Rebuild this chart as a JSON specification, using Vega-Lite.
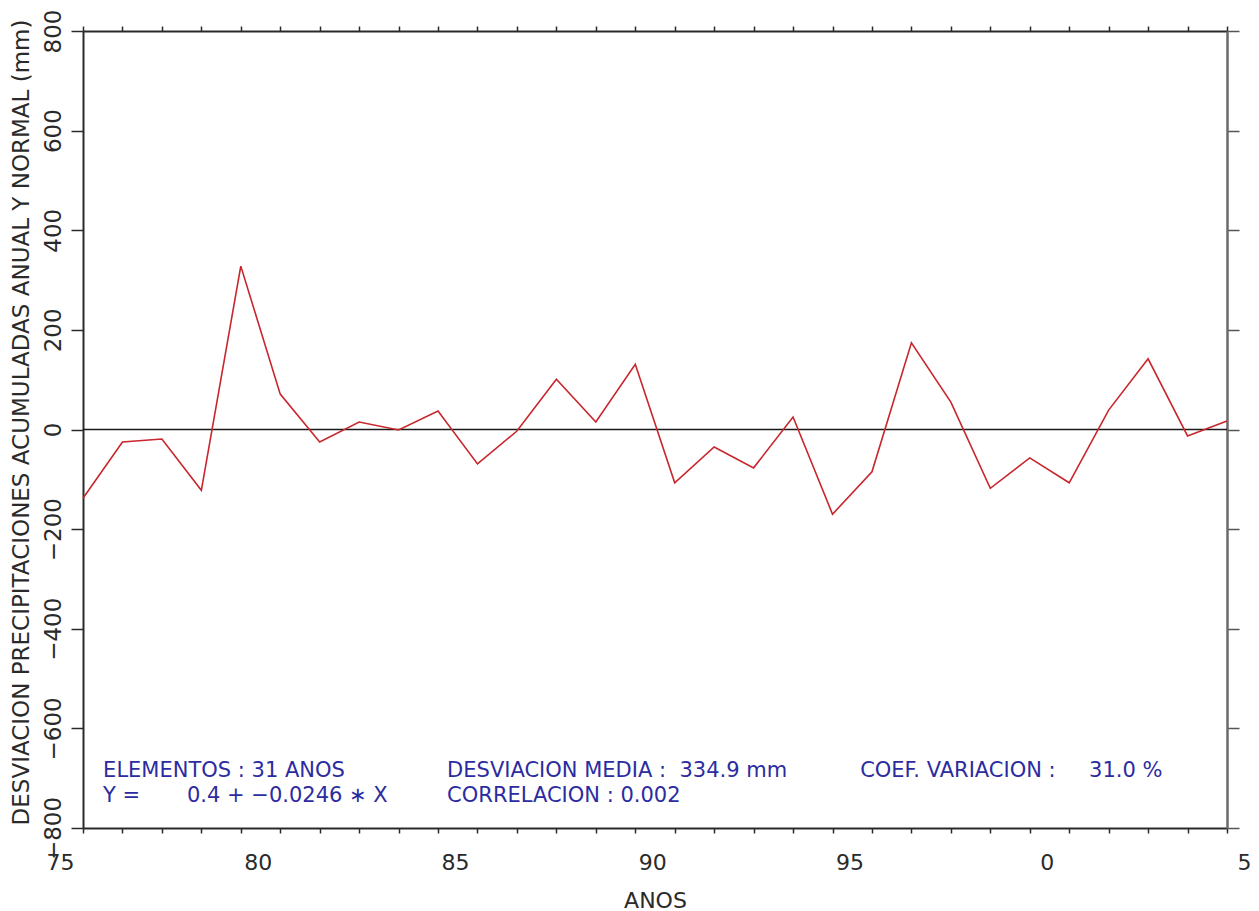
{
  "$schema": "https://vega.github.io/schema/vega-lite/v6.json",
  "width": 1144,
  "height": 797,
  "autosize": {"type": "none"},
  "padding": {"left": 83, "top": 31, "right": 32, "bottom": 83},
  "background": "white",
  "config": {"view": {"stroke": null}, "font": "DejaVu Sans"},
  "datasets": {
    "desviacion": [
      {"anio": 1976, "desviacion": -138},
      {"anio": 1977, "desviacion": -25},
      {"anio": 1978, "desviacion": -19},
      {"anio": 1979, "desviacion": -122},
      {"anio": 1980, "desviacion": 328},
      {"anio": 1981, "desviacion": 71},
      {"anio": 1982, "desviacion": -25},
      {"anio": 1983, "desviacion": 15},
      {"anio": 1984, "desviacion": -1},
      {"anio": 1985, "desviacion": 37},
      {"anio": 1986, "desviacion": -69},
      {"anio": 1987, "desviacion": -3},
      {"anio": 1988, "desviacion": 101},
      {"anio": 1989, "desviacion": 15},
      {"anio": 1990, "desviacion": 131},
      {"anio": 1991, "desviacion": -107},
      {"anio": 1992, "desviacion": -35},
      {"anio": 1993, "desviacion": -77},
      {"anio": 1994, "desviacion": 25},
      {"anio": 1995, "desviacion": -170},
      {"anio": 1996, "desviacion": -85},
      {"anio": 1997, "desviacion": 174},
      {"anio": 1998, "desviacion": 55},
      {"anio": 1999, "desviacion": -118},
      {"anio": 2000, "desviacion": -57},
      {"anio": 2001, "desviacion": -107},
      {"anio": 2002, "desviacion": 39},
      {"anio": 2003, "desviacion": 142},
      {"anio": 2004, "desviacion": -13},
      {"anio": 2005, "desviacion": 17}
    ]
  },
  "resolve": {"axis": {"x": "independent", "y": "independent"}},
  "layer": [
    {
      "data": {"values": [{}]},
      "mark": {"type": "rule", "color": "#1a1a1a", "strokeWidth": 1.5},
      "encoding": {
        "y": {"datum": 0, "type": "quantitative", "scale": {"domain": [-800, 800], "nice": false, "zero": false}, "axis": null}
      }
    },
    {
      "data": {"name": "desviacion"},
      "mark": {"type": "line", "color": "#c8262c", "strokeWidth": 1.6},
      "encoding": {
        "x": {
          "field": "anio",
          "type": "quantitative",
          "scale": {"domain": [1976, 2005], "nice": false, "zero": false},
          "axis": {
            "orient": "bottom",
            "values": [1976, 1977, 1978, 1979, 1980, 1981, 1982, 1983, 1984, 1985, 1986, 1987, 1988, 1989, 1990, 1991, 1992, 1993, 1994, 1995, 1996, 1997, 1998, 1999, 2000, 2001, 2002, 2003, 2004, 2005],
            "labelExpr": "datum.value == 1976 ? '75' : (datum.value % 5 == 0 ? '' + (datum.value % 100) : '')",
            "labelOffset": {"condition": {"test": "datum.value == 1976", "value": -23}, "value": 17},
            "labelFont": "DejaVu Sans",
            "labelFontSize": 22,
            "labelColor": "#2a2a2a",
            "labelPadding": 19,
            "labelOverlap": false,
            "labelBound": false,
            "labelFlush": false,
            "tickSize": 5,
            "tickColor": "#2a2a2a",
            "tickWidth": 1.5,
            "domainColor": "#2a2a2a",
            "domainWidth": 2,
            "grid": false,
            "title": "ANOS",
            "titleFont": "DejaVu Sans",
            "titleFontSize": 22,
            "titleFontWeight": "normal",
            "titleColor": "#2a2a2a",
            "titleBaseline": "alphabetic",
            "titleY": 79
          }
        },
        "y": {
          "field": "desviacion",
          "type": "quantitative",
          "scale": {"domain": [-800, 800], "nice": false, "zero": false},
          "axis": {
            "orient": "left",
            "values": [-800, -600, -400, -200, 0, 200, 400, 600, 800],
            "labelAngle": 270,
            "labelAlign": "center",
            "labelBaseline": "alphabetic",
            "labelFont": "DejaVu Sans",
            "labelFontSize": 23,
            "labelColor": "#2a2a2a",
            "labelPadding": 11,
            "labelOverlap": false,
            "labelBound": false,
            "labelFlush": false,
            "tickSize": 12,
            "tickColor": "#2a2a2a",
            "tickWidth": 1.5,
            "domainColor": "#2a2a2a",
            "domainWidth": 2,
            "grid": false,
            "title": "DESVIACION PRECIPITACIONES ACUMULADAS ANUAL Y NORMAL (mm)",
            "titleFont": "DejaVu Sans",
            "titleFontSize": 23,
            "titleFontWeight": "normal",
            "titleColor": "#2a2a2a",
            "titleAngle": 270,
            "titleAlign": "center",
            "titleBaseline": "alphabetic",
            "titleX": -55,
            "titleY": 391
          }
        }
      }
    },
    {
      "data": {"name": "desviacion"},
      "mark": {"type": "point", "opacity": 0},
      "encoding": {
        "x": {
          "field": "anio",
          "type": "quantitative",
          "scale": {"domain": [1976, 2005], "nice": false, "zero": false},
          "axis": {
            "orient": "top",
            "values": [1976, 1977, 1978, 1979, 1980, 1981, 1982, 1983, 1984, 1985, 1986, 1987, 1988, 1989, 1990, 1991, 1992, 1993, 1994, 1995, 1996, 1997, 1998, 1999, 2000, 2001, 2002, 2003, 2004, 2005],
            "labels": false,
            "tickSize": 5,
            "tickColor": "#2a2a2a",
            "tickWidth": 1.5,
            "domainColor": "#2a2a2a",
            "domainWidth": 2,
            "grid": false,
            "title": null
          }
        },
        "y": {
          "field": "desviacion",
          "type": "quantitative",
          "scale": {"domain": [-800, 800], "nice": false, "zero": false},
          "axis": {
            "orient": "right",
            "values": [-800, -600, -400, -200, 0, 200, 400, 600, 800],
            "labels": false,
            "tickSize": 12,
            "tickColor": "#555555",
            "tickWidth": 1.5,
            "domainColor": "#6a6a6a",
            "domainWidth": 2.5,
            "grid": false,
            "title": null
          }
        }
      }
    },
    {
      "data": {"values": [{}]},
      "mark": {"type": "text", "align": "left", "baseline": "alphabetic", "fontSize": 21, "font": "DejaVu Sans", "color": "#2c2ca0"},
      "encoding": {
        "x": {"datum": 1976.51, "type": "quantitative", "axis": null},
        "y": {"datum": -697.6, "type": "quantitative", "axis": null},
        "text": {"value": "ELEMENTOS : 31 ANOS"}
      }
    },
    {
      "data": {"values": [{}]},
      "mark": {"type": "text", "align": "left", "baseline": "alphabetic", "fontSize": 21, "font": "DejaVu Sans", "color": "#2c2ca0"},
      "encoding": {
        "x": {"datum": 1976.51, "type": "quantitative", "axis": null},
        "y": {"datum": -747.8, "type": "quantitative", "axis": null},
        "text": {"value": "Y =\u00a0\u00a0\u00a0\u00a0\u00a0\u00a0\u00a00.4 + −0.0246 ∗ X"}
      }
    },
    {
      "data": {"values": [{}]},
      "mark": {"type": "text", "align": "left", "baseline": "alphabetic", "fontSize": 21, "font": "DejaVu Sans", "color": "#2c2ca0"},
      "encoding": {
        "x": {"datum": 1985.23, "type": "quantitative", "axis": null},
        "y": {"datum": -697.6, "type": "quantitative", "axis": null},
        "text": {"value": "DESVIACION MEDIA :\u00a0\u00a0334.9 mm"}
      }
    },
    {
      "data": {"values": [{}]},
      "mark": {"type": "text", "align": "left", "baseline": "alphabetic", "fontSize": 21, "font": "DejaVu Sans", "color": "#2c2ca0"},
      "encoding": {
        "x": {"datum": 1985.23, "type": "quantitative", "axis": null},
        "y": {"datum": -747.8, "type": "quantitative", "axis": null},
        "text": {"value": "CORRELACION : 0.002"}
      }
    },
    {
      "data": {"values": [{}]},
      "mark": {"type": "text", "align": "left", "baseline": "alphabetic", "fontSize": 21, "font": "DejaVu Sans", "color": "#2c2ca0"},
      "encoding": {
        "x": {"datum": 1995.7, "type": "quantitative", "axis": null},
        "y": {"datum": -697.6, "type": "quantitative", "axis": null},
        "text": {"value": "COEF. VARIACION :\u00a0\u00a0\u00a0\u00a0\u00a031.0 %"}
      }
    }
  ]
}
